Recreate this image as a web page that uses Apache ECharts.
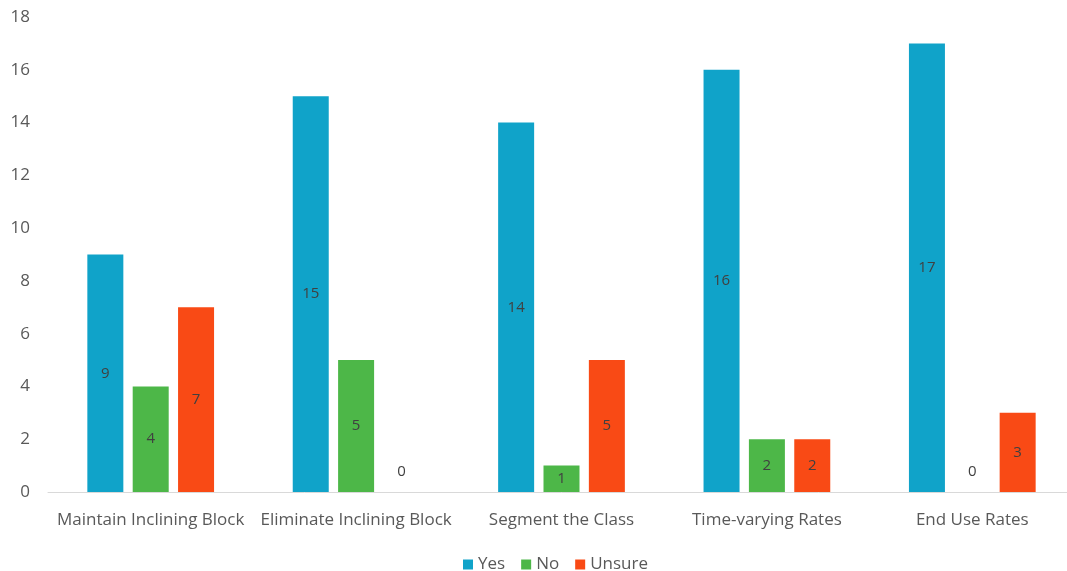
<!DOCTYPE html>
<html>
<head>
<meta charset="utf-8">
<script src="https://cdn.jsdelivr.net/npm/echarts@6/dist/echarts.min.js"></script>
<style>html,body{margin:0;padding:0;background:#fff;overflow:hidden;}#c{width:1075px;height:571px;}</style>
</head>
<body>
<div id="c"></div>
<script>
const categories = ["Maintain Inclining Block", "Eliminate Inclining Block", "Segment the Class", "Time-varying Rates", "End Use Rates"];
const yesValues = [9, 15, 14, 16, 17];
const noValues = [4, 5, 1, 2, 0];
const unsureValues = [7, 0, 5, 2, 3];
const seriesNames = ["Yes", "No", "Unsure"];
const colors = ["#10A3C9", "#4DB748", "#F94A15"];

const font = "'Open Sans', 'Noto Sans', sans-serif";
function toData(arr) {
  return arr.map(v => v === 0
    ? { value: v, label: { position: 'top', distance: 13 } }
    : { value: v });
}
function mk(name, arr, i) {
  return {
    name: name, type: 'bar', data: toData(arr),
    barWidth: 36, barGap: '26%',
    itemStyle: { color: colors[i] },
    label: { show: true, position: 'inside', color: '#404040', fontSize: 15, fontFamily: font },
    emphasis: { disabled: true }
  };
}
const chart = echarts.init(document.getElementById('c'));
chart.setOption({
  animation: false,
  color: colors,
  grid: { left: 48, right: 0, top: 17, bottom: 79, containLabel: false },
  legend: {
    top: 551, left: 458, itemWidth: 10, itemHeight: 10, itemGap: 16,
    icon: 'rect',
    textStyle: { color: '#595959', fontSize: 17, fontFamily: font },
    data: seriesNames
  },
  xAxis: {
    type: 'category', data: categories,
    axisLine: { show: true, lineStyle: { color: '#D9D9D9', width: 1 } },
    axisTick: { show: false },
    axisLabel: { color: '#595959', fontSize: 17, fontFamily: font, margin: 20, interval: 0 }
  },
  yAxis: {
    type: 'value', min: 0, max: 18, interval: 2,
    axisLine: { show: false }, axisTick: { show: false },
    splitLine: { show: false },
    axisLabel: { color: '#595959', fontSize: 17, fontFamily: font, margin: 18 }
  },
  series: [
    mk(seriesNames[0], yesValues, 0),
    mk(seriesNames[1], noValues, 1),
    mk(seriesNames[2], unsureValues, 2)
  ]
});
</script>
</body>
</html>
